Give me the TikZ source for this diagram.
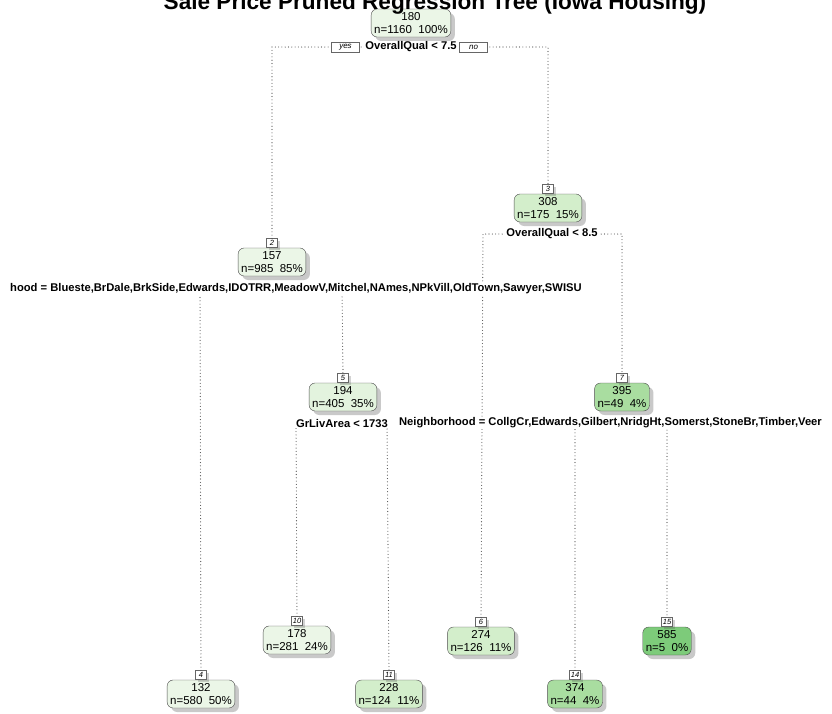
\documentclass[tikz,border=0pt]{standalone}
\usepackage{fontspec}
\setmainfont{Liberation Sans}
\usetikzlibrary{shadows}

% fill colours of the tree nodes, light to dark
\definecolor{grnA}{HTML}{EBF6E7}
\definecolor{grnB}{HTML}{E3F3DE}
\definecolor{grnC}{HTML}{D3EECB}
\definecolor{grnD}{HTML}{A9DDA0}
\definecolor{grnE}{HTML}{7DCB7A}

\tikzset{
  treenode/.style={draw=black!70, rounded corners=6pt, align=center,
    font=\fontsize{11.5}{13}\selectfont, inner xsep=3pt, inner ysep=1pt,
    minimum height=28pt,
    drop shadow={shadow xshift=4pt, shadow yshift=-4pt, opacity=0.3, fill=black!70}},
  idbox/.style={draw=black!60, fill=white, anchor=south,
    font=\fontsize{7.5}{8}\selectfont\itshape, inner sep=0.5pt,
    minimum width=11pt, minimum height=9pt,
    drop shadow={shadow xshift=2pt, shadow yshift=-2pt, opacity=0.25, fill=black!70}},
  splitlab/.style={font=\bfseries\fontsize{11.2}{12}\selectfont, fill=white, inner sep=1pt},
  yesno/.style={draw=black!60, fill=white, font=\fontsize{8}{8}\selectfont\itshape,
    minimum width=28pt, minimum height=10pt, inner sep=0pt},
  branch/.style={black!70, line width=1.1pt, line cap=round, dash pattern=on 0pt off 3.3pt}
}

\begin{document}
\begin{tikzpicture}[x=1pt, y=-1pt]
  % page frame, pixel units
  \useasboundingbox (0,0) rectangle (832,713);

  % Nodes of the tree
  \node[treenode, fill=grnA] (n1) at (411,23) {180\\n=1160\ \ 100\%};
  \node[treenode, fill=grnA] (n2) at (272,262) {157\\n=985\ \ 85\%};
  \node[idbox] (l2) at (n2.north) {2};
  \node[treenode, fill=grnC] (n3) at (548,208) {308\\n=175\ \ 15\%};
  \node[idbox] (l3) at (n3.north) {3};
  \node[treenode, fill=grnB] (n5) at (343,397) {194\\n=405\ \ 35\%};
  \node[idbox] (l5) at (n5.north) {5};
  \node[treenode, fill=grnD] (n7) at (622,397) {395\\n=49\ \ 4\%};
  \node[idbox] (l7) at (n7.north) {7};

  % Leaves
  \node[treenode, fill=grnA] (n4) at (201,694) {132\\n=580\ \ 50\%};
  \node[idbox] (l4) at (n4.north) {4};
  \node[treenode, fill=grnA] (n10) at (297,640) {178\\n=281\ \ 24\%};
  \node[idbox] (l10) at (n10.north) {10};
  \node[treenode, fill=grnC] (n11) at (389,694) {228\\n=124\ \ 11\%};
  \node[idbox] (l11) at (n11.north) {11};
  \node[treenode, fill=grnC] (n6) at (481,641) {274\\n=126\ \ 11\%};
  \node[idbox] (l6) at (n6.north) {6};
  \node[treenode, fill=grnD] (n14) at (575,694) {374\\n=44\ \ 4\%};
  \node[idbox] (l14) at (n14.north) {14};
  \node[treenode, fill=grnE] (n15) at (667,641) {585\\n=5\ \ 0\%};
  \node[idbox] (l15) at (n15.north) {15};

  % Title, cut by the top edge
  \node[font=\bfseries\fontsize{22.6}{26}\selectfont, anchor=base] (title) at (435,9)
    {Sale Price Pruned Regression Tree (Iowa Housing)};

  % Split corners
  \coordinate (s1l) at (272,47);  \coordinate (s1r) at (548,47);
  \coordinate (s2l) at (200,289); \coordinate (s2r) at (342,289);
  \coordinate (s3l) at (483,234); \coordinate (s3r) at (622,234);
  \coordinate (s5l) at (296,423); \coordinate (s5r) at (387,423);
  \coordinate (s7l) at (575,423); \coordinate (s7r) at (667,423);

  % Branches
  \draw[branch] (l2.north) -- (s1l) -- (s1r) -- (l3.north);
  \draw[branch] (l4.north) -- (s2l) -- (s2r) -- (l5.north);
  \draw[branch] (l6.north) -- (s3l) -- (s3r) -- (l7.north);
  \draw[branch] (l10.north) -- (s5l) -- (s5r) -- (l11.north);
  \draw[branch] (l14.north) -- (s7l) -- (s7r) -- (l15.north);

  % Split labels
  \node[splitlab] (q1) at (411,47) {OverallQual < 7.5};
  \node[yesno] (yes) at (345.5,47) {yes};
  \node[yesno] (no) at (473.5,47) {no};
  \node[splitlab, anchor=west] (q2) at (9,289)
    {hood = Blueste,BrDale,BrkSide,Edwards,IDOTRR,MeadowV,Mitchel,NAmes,NPkVill,OldTown,Sawyer,SWISU};
  \node[splitlab] (q3) at (552,234) {OverallQual < 8.5};
  \node[splitlab] (q5) at (342,423) {GrLivArea < 1733};
  \node[splitlab, anchor=east] (q7) at (823,423)
    {Neighborhood = CollgCr,Edwards,Gilbert,NridgHt,Somerst,StoneBr,Timber,Veer};
\end{tikzpicture}
\end{document}
